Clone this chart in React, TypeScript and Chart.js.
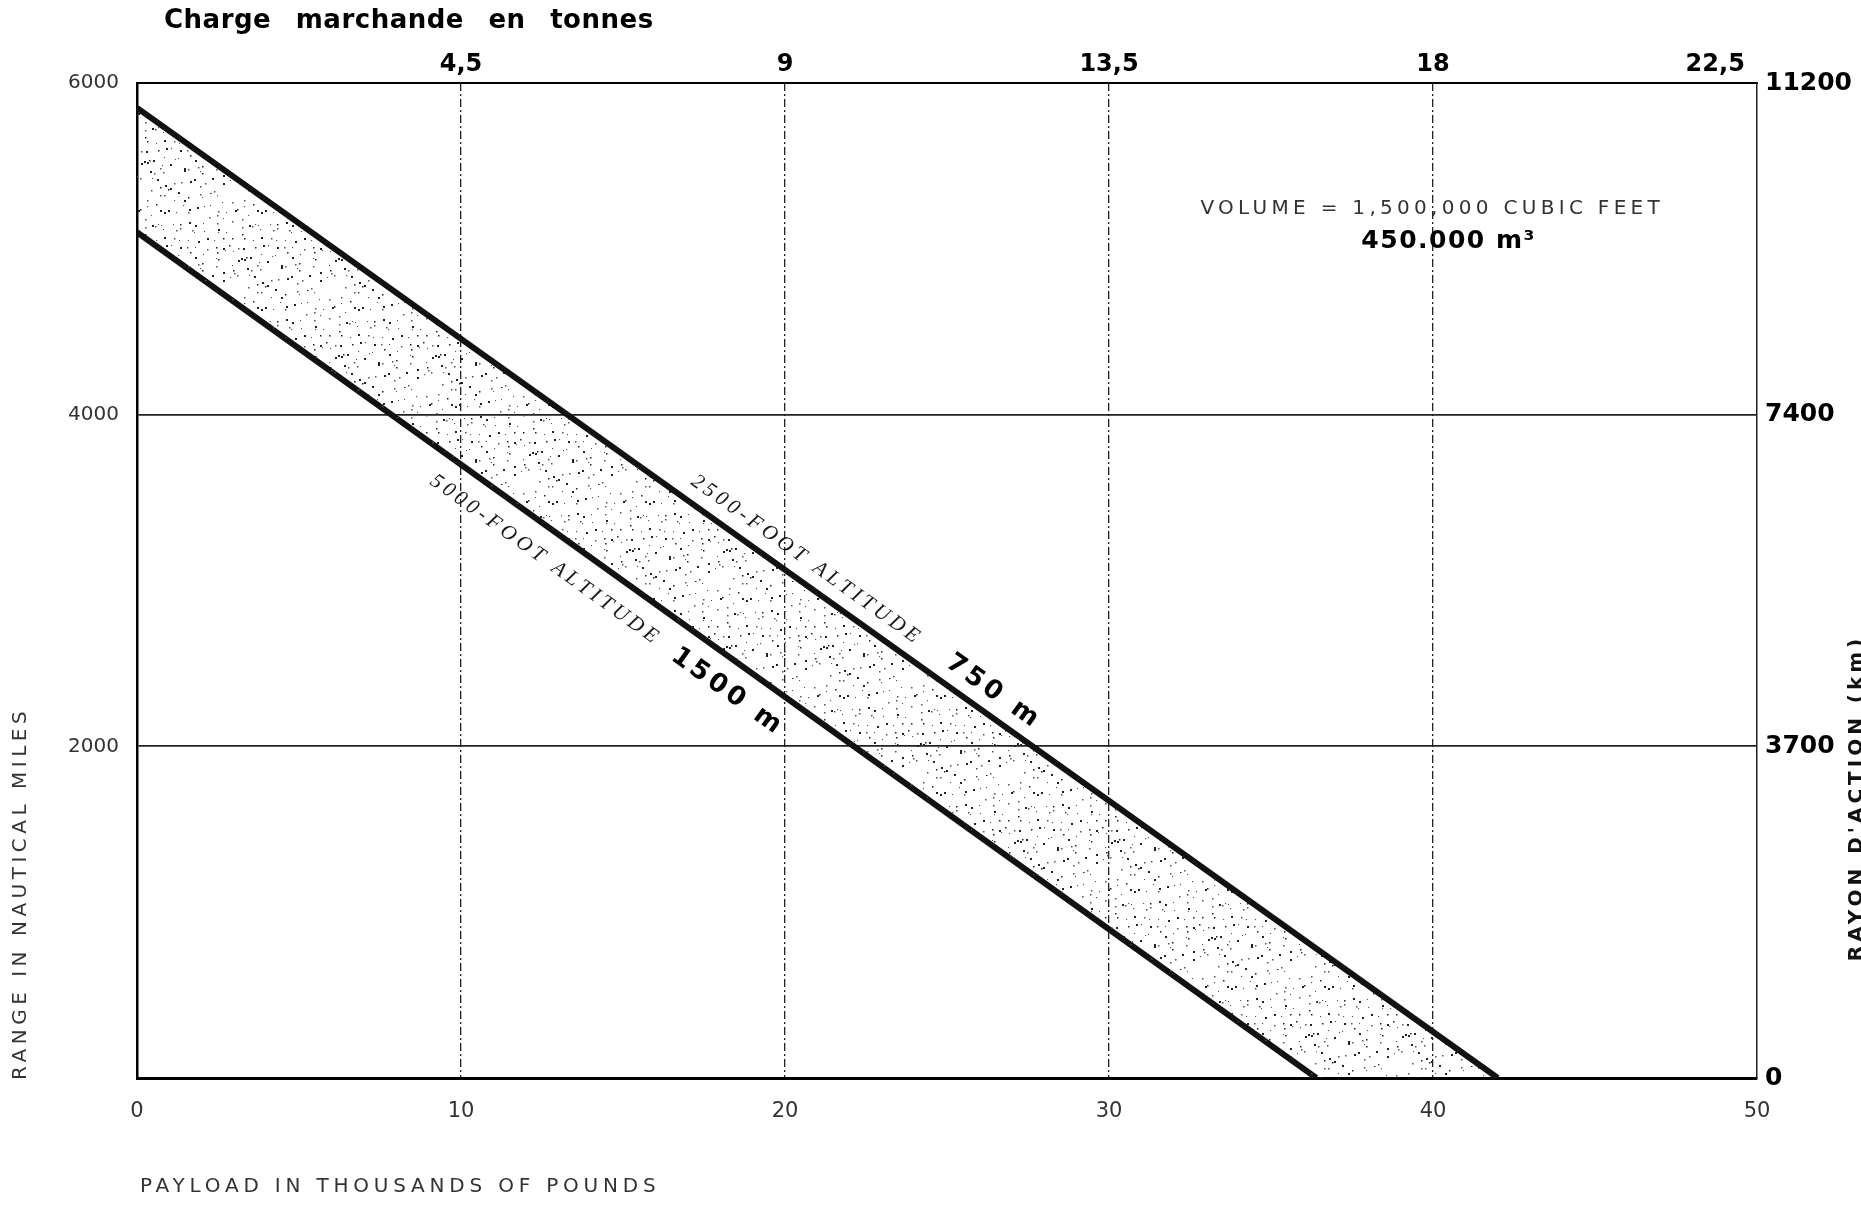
import React, { useEffect, useRef } from "react";
import { Chart, registerables } from "chart.js";

Chart.register(...registerables);

// ---- data ----
const payloadTicks = [0, 10, 20, 30, 40, 50]; // thousands of pounds
const payloadTickLabels = ["0", "10", "20", "30", "40", "50"];
// the last top label is pushed left of its grid line, as in the original
const tonneTickLabels = ["", "4,5", "9", "13,5", "18", "22,5          "];
const rangeTicks = [0, 2000, 4000, 6000]; // nautical miles
const rangeTickLabels = ["", "2000", "4000", "6000"];
const kmTickLabels = ["0", "3700", "7400", "11200"];

// 2500-foot altitude (750 m)
const alt2500Payload = [0, 42];
const alt2500Range = [5850, 0];
// 5000-foot altitude (1500 m)
const alt5000Payload = [0, 36.4, 42];
const alt5000Range = [5100, 0, 0];

const topTitle = "Charge marchande en tonnes";
const xTitle = "PAYLOAD IN THOUSANDS OF POUNDS";
const yTitle = "RANGE IN NAUTICAL MILES";
const y2Title = "RAYON D'ACTION (km)";
const volumeLine1 = "VOLUME = 1,500,000 CUBIC FEET";
const volumeLine2 = "450.000 m³";
const lineLabels = ["2500-FOOT ALTITUDE", "5000-FOOT ALTITUDE", "750 m", "1500 m"];

// annotation anchors in data units (payload, range)
const ANNOT = {
  alt2500: { x: 20.62, y: 3130 },
  alt5000: { x: 12.56, y: 3130 },
  m750: { x: 26.39, y: 2334 },
  m1500: { x: 18.18, y: 2334 },
  vol1: { x: 39.91, y: 5240 },
  vol2: { x: 40.46, y: 5047 },
};

const toXY = (xs: number[], ys: number[]) => xs.map((x, i) => ({ x, y: ys[i] }));

// deterministic stipple texture for the shaded band
function mulberry32(a: number) {
  return function () {
    a |= 0;
    a = (a + 0x6d2b79f5) | 0;
    let t = Math.imul(a ^ (a >>> 15), 1 | a);
    t = (t + Math.imul(t ^ (t >>> 7), 61 | t)) ^ t;
    return ((t ^ (t >>> 14)) >>> 0) / 4294967296;
  };
}

function makeStipple(): CanvasPattern | string {
  const size = 97;
  const c = document.createElement("canvas");
  c.width = size;
  c.height = size;
  const g = c.getContext("2d");
  if (!g) return "rgba(0,0,0,0.1)";
  const rnd = mulberry32(90125);
  const cells = 12;
  const cell = size / cells;
  for (let i = 0; i < cells; i++) {
    for (let j = 0; j < cells; j++) {
      if (rnd() < 0.12) continue;
      const px = (i + rnd()) * cell;
      const py = (j + rnd()) * cell;
      const r = rnd();
      const sz = r > 0.75 ? 2 : r > 0.3 ? 1.5 : 1.1;
      g.fillStyle = r > 0.5 ? "#222" : "#555";
      g.fillRect(Math.floor(px), Math.floor(py), sz, sz);
    }
  }
  return g.createPattern(c, "repeat") || "rgba(0,0,0,0.1)";
}

function drawText(
  ctx: CanvasRenderingContext2D,
  text: string,
  px: number,
  py: number,
  font: string,
  color: string,
  spacing: number,
  angle: number,
  align: CanvasTextAlign = "center",
  wordSpacing = 0
) {
  ctx.save();
  ctx.translate(px, py);
  ctx.rotate(angle);
  ctx.font = font;
  ctx.fillStyle = color;
  (ctx as any).letterSpacing = spacing + "px";
  (ctx as any).wordSpacing = wordSpacing + "px";
  ctx.textAlign = align;
  ctx.textBaseline = "middle";
  ctx.fillText(text, align === "center" ? spacing / 2 : 0, 0);
  ctx.restore();
}

const annotationPlugin = {
  id: "annotations",
  afterDatasetsDraw(chart: any) {
    const { ctx, scales } = chart;
    const xs = scales.x;
    const ys = scales.y;
    const ang = (px: number[], ry: number[]) =>
      Math.atan2(
        ys.getPixelForValue(ry[1]) - ys.getPixelForValue(ry[0]),
        xs.getPixelForValue(px[1]) - xs.getPixelForValue(px[0])
      );
    const aUp = ang(alt2500Payload, alt2500Range);
    const aLo = ang(alt5000Payload, alt5000Range);
    const P = (p: { x: number; y: number }) => [xs.getPixelForValue(p.x), ys.getPixelForValue(p.y)];

    let [px, py] = P(ANNOT.alt2500);
    drawText(ctx, lineLabels[0], px, py, "italic 21px 'Liberation Serif'", "#1a1a1a", 4, aUp);
    [px, py] = P(ANNOT.alt5000);
    drawText(ctx, lineLabels[1], px, py, "italic 21px 'Liberation Serif'", "#1a1a1a", 4, aLo);
    [px, py] = P(ANNOT.m750);
    drawText(ctx, lineLabels[2], px, py, "bold 26px 'DejaVu Sans'", "#000", 4, aUp);
    [px, py] = P(ANNOT.m1500);
    drawText(ctx, lineLabels[3], px, py, "bold 26px 'DejaVu Sans'", "#000", 4, aLo);

    [px, py] = P(ANNOT.vol1);
    drawText(ctx, volumeLine1, px, py, "20px 'DejaVu Sans'", "#333", 4.3, 0);
    [px, py] = P(ANNOT.vol2);
    drawText(ctx, volumeLine2, px, py, "bold 25px 'DejaVu Sans'", "#000", 1.5, 0);
  },
  afterDraw(chart: any) {
    const { ctx, chartArea } = chart;
    drawText(ctx, topTitle, chartArea.left + 27, 21, "bold 26px 'DejaVu Sans'", "#000", 0.5, 0, "left", 15);
    drawText(ctx, xTitle, chartArea.left + 3, 1187, "20px 'DejaVu Sans'", "#333", 4.8, 0, "left");
    drawText(ctx, yTitle, 21, chartArea.bottom + 2, "20px 'DejaVu Sans'", "#333", 4.5, -Math.PI / 2, "left");
    drawText(ctx, y2Title, 1857, 800, "bold 20px 'DejaVu Sans'", "#111", 4, -Math.PI / 2, "center");
  },
};

export default function App() {
  const ref = useRef<HTMLCanvasElement | null>(null);

  useEffect(() => {
    if (!ref.current) return;
    const stipple = makeStipple();
    const edgeTransparent = (edges: number[]) => (c: any) =>
      c.tick && edges.includes(c.tick.value) ? "rgba(0,0,0,0)" : "#222";

    const chart = new Chart(ref.current, {
      type: "line",
      data: {
        datasets: [
          {
            label: "2500-foot altitude (750 m)",
            data: toXY(alt2500Payload, alt2500Range),
            borderColor: "#111",
            borderWidth: 6,
            pointRadius: 0,
            tension: 0,
            fill: "+1",
            backgroundColor: stipple as any,
            xAxisID: "x",
            yAxisID: "y",
          },
          {
            label: "5000-foot altitude (1500 m)",
            data: toXY(alt5000Payload, alt5000Range),
            borderColor: "#111",
            borderWidth: 6,
            pointRadius: 0,
            tension: 0,
            fill: false,
            segment: {
              borderColor: (c: any) =>
                c.p0.parsed.y === 0 && c.p1.parsed.y === 0 ? "rgba(0,0,0,0)" : undefined,
            },
            xAxisID: "x",
            yAxisID: "y",
          },
        ],
      },
      options: {
        animation: false,
        responsive: false,
        devicePixelRatio: 1,
        layout: { padding: 0 },
        plugins: {
          legend: { display: false },
          title: { display: false },
          tooltip: { enabled: false },
        },
        scales: {
          x: {
            type: "linear",
            position: "bottom",
            min: 0,
            max: 50,
            afterBuildTicks: (s: any) => {
              s.ticks = payloadTicks.map((v) => ({ value: v }));
            },
            afterFit: (s: any) => {
              s.height = 127;
            },
            ticks: {
              callback: (v: any) => payloadTickLabels[payloadTicks.indexOf(Number(v))] ?? "",
              font: { family: "'DejaVu Sans'", size: 21 },
              color: "#333",
              padding: 21,
              maxRotation: 0,
              autoSkip: false,
            },
            grid: { color: edgeTransparent([0, 50]), lineWidth: 1.3, drawTicks: false },
            border: { color: "#000", width: 3, dash: [8, 3, 2, 3] },
          },
          x2: {
            type: "linear",
            position: "top",
            min: 0,
            max: 50,
            afterBuildTicks: (s: any) => {
              s.ticks = payloadTicks.map((v) => ({ value: v }));
            },
            afterFit: (s: any) => {
              s.height = 83;
            },
            ticks: {
              callback: (v: any) => tonneTickLabels[payloadTicks.indexOf(Number(v))] ?? "",
              font: { family: "'DejaVu Sans'", size: 24, weight: "bold" },
              color: "#000",
              padding: 4,
              maxRotation: 0,
              autoSkip: false,
            },
            grid: { display: false, drawTicks: false },
            border: { color: "#000", width: 2 },
          },
          y: {
            type: "linear",
            position: "left",
            min: 0,
            max: 6000,
            afterBuildTicks: (s: any) => {
              s.ticks = rangeTicks.map((v) => ({ value: v }));
            },
            afterFit: (s: any) => {
              s.width = 137;
            },
            ticks: {
              callback: (v: any) => rangeTickLabels[rangeTicks.indexOf(Number(v))] ?? "",
              font: { family: "'DejaVu Sans'", size: 20 },
              color: "#333",
              padding: 18,
              autoSkip: false,
            },
            grid: { color: edgeTransparent([0, 6000]), lineWidth: 1.8, drawTicks: false },
            border: { color: "#000", width: 2.5 },
          },
          y2: {
            type: "linear",
            position: "right",
            min: 0,
            max: 6000,
            afterBuildTicks: (s: any) => {
              s.ticks = rangeTicks.map((v) => ({ value: v }));
            },
            afterFit: (s: any) => {
              s.width = 104;
            },
            ticks: {
              callback: (v: any) => kmTickLabels[rangeTicks.indexOf(Number(v))] ?? "",
              font: { family: "'DejaVu Sans'", size: 25, weight: "bold" },
              color: "#000",
              padding: 8,
              autoSkip: false,
            },
            grid: { display: false, drawTicks: false },
            border: { color: "#222", width: 1.5 },
          },
        },
      },
      plugins: [annotationPlugin],
    } as any);

    return () => chart.destroy();
  }, []);

  return (
    <div style={{ position: "fixed", left: 0, top: 0, width: 1861, height: 1205, background: "#fff" }}>
      <canvas ref={ref} width={1861} height={1205} style={{ display: "block", width: 1861, height: 1205 }} />
    </div>
  );
}
